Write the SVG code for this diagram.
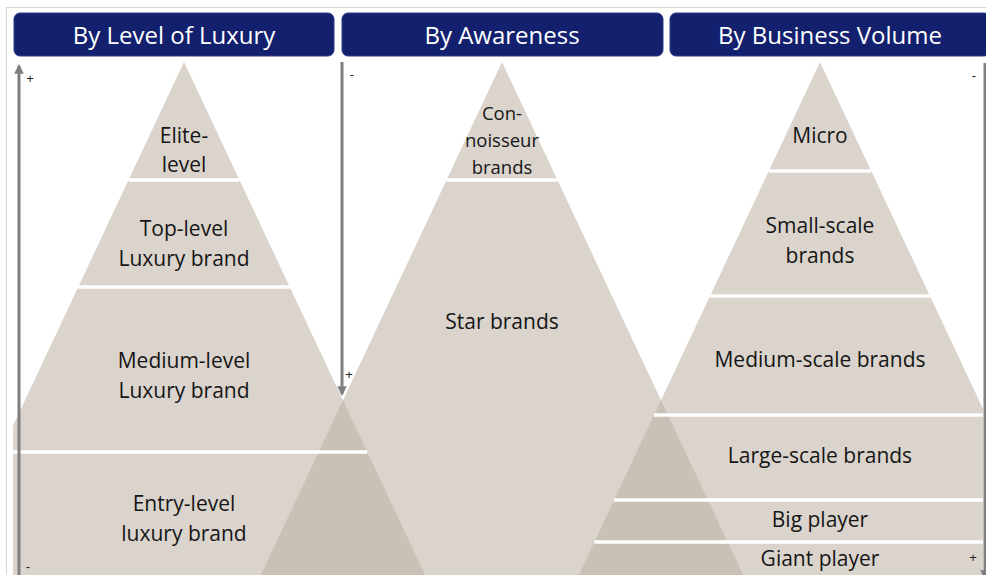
<svg xmlns="http://www.w3.org/2000/svg" width="986" height="575" viewBox="0 0 986 575">
<defs>
<style>
.hdr{fill:#13206E;stroke:#2E3A86;stroke-width:1}
.hdrt{font-family:"Open Sans","Liberation Sans",sans-serif;font-size:24px;fill:#ffffff;text-anchor:middle}
.pyr{fill:#DAD4CD}
.ovl{fill:#C9C0B6}
.sep{stroke:#ffffff;stroke-width:3.5}
.lbl{font-family:"Open Sans","Liberation Sans",sans-serif;font-size:21px;fill:#161616;text-anchor:middle}
.sm{font-family:"Liberation Sans",sans-serif;font-size:13px;fill:#222222;text-anchor:middle}
.axis{stroke:#7F7F7F;stroke-width:3;fill:none}
</style>
<marker id="ah" viewBox="0 0 10 10" refX="8" refY="5" markerWidth="3.2" markerHeight="3.2" orient="auto">
<path d="M0,0 L10,5 L0,10 z" fill="#7F7F7F"/>
</marker>
<clipPath id="clip"><rect x="13" y="57" width="970" height="518"/></clipPath>
</defs>
<rect x="0" y="0" width="986" height="575" fill="#ffffff"/>
<rect x="6.5" y="7.5" width="1000" height="600" fill="none" stroke="#D6D6D6" stroke-width="1"/>

<g id="headers">
<g id="header-luxury"><rect class="hdr" x="14" y="13" width="320" height="43" rx="6"/><text class="hdrt" x="174" y="44">By Level of Luxury</text></g>
<g id="header-awareness"><rect class="hdr" x="342" y="13" width="321" height="43" rx="6"/><text class="hdrt" x="502" y="44">By Awareness</text></g>
<g id="header-volume"><rect class="hdr" x="670" y="13" width="320" height="43" rx="6"/><text class="hdrt" x="830" y="44">By Business Volume</text></g>
</g>

<g id="pyramids" clip-path="url(#clip)">
<polygon id="pyramid-luxury" class="pyr" points="184,62 -68.9,600 436.9,600"/>
<polygon id="pyramid-awareness" class="pyr" points="502,62 249.1,600 754.9,600"/>
<polygon id="pyramid-volume" class="pyr" points="820,62 567.1,600 1072.9,600"/>
<polygon class="ovl" points="343,400.3 436.9,600 249.1,600"/>
<polygon class="ovl" points="661,400.3 754.9,600 567.1,600"/>
<line class="sep" x1="128.5" y1="180" x2="239.5" y2="180"/>
<line class="sep" x1="78" y1="287" x2="290" y2="287"/>
<line class="sep" x1="0.7" y1="452" x2="367.3" y2="452"/>
<line class="sep" x1="446.5" y1="180" x2="557.5" y2="180"/>
<line class="sep" x1="768.8" y1="171" x2="871.2" y2="171"/>
<line class="sep" x1="710" y1="296" x2="930" y2="296"/>
<line class="sep" x1="654" y1="415" x2="990" y2="415"/>
<line class="sep" x1="614" y1="500" x2="990" y2="500"/>
<line class="sep" x1="594.4" y1="542" x2="990" y2="542"/>
</g>

<g id="connectors">
<line class="axis" x1="19" y1="580" x2="19" y2="66" marker-end="url(#ah)"/>
<line class="axis" x1="342" y1="62" x2="342" y2="394" marker-end="url(#ah)"/>
<line class="axis" x1="985" y1="63" x2="985" y2="578" marker-end="url(#ah)"/>
</g>

<g id="axis-labels">
<text class="sm" x="30" y="83">+</text>
<text class="sm" x="28" y="571">-</text>
<text class="sm" x="352" y="79">-</text>
<text class="sm" x="349" y="379">+</text>
<text class="sm" x="974" y="80">-</text>
<text class="sm" x="973" y="562">+</text>
</g>

<g id="elite-level"><text class="lbl" x="184" y="143">Elite-</text><text class="lbl" x="184" y="172">level</text></g>
<g id="top-level"><text class="lbl" x="184" y="236">Top-level</text><text class="lbl" x="184" y="266">Luxury brand</text></g>
<g id="medium-level"><text class="lbl" x="184" y="368">Medium-level</text><text class="lbl" x="184" y="398">Luxury brand</text></g>
<g id="entry-level"><text class="lbl" x="184" y="511">Entry-level</text><text class="lbl" x="184" y="541">luxury brand</text></g>

<g id="connoisseur"><text class="lbl" x="502" y="120" style="font-size:18.5px">Con-</text><text class="lbl" x="502" y="147" style="font-size:18.5px">noisseur</text><text class="lbl" x="502" y="174" style="font-size:18.5px">brands</text></g>
<g id="star-brands"><text class="lbl" x="502" y="329">Star brands</text></g>

<g id="micro"><text class="lbl" x="820" y="143">Micro</text></g>
<g id="small-scale"><text class="lbl" x="820" y="233">Small-scale</text><text class="lbl" x="820" y="263">brands</text></g>
<g id="medium-scale"><text class="lbl" x="820" y="367">Medium-scale brands</text></g>
<g id="large-scale"><text class="lbl" x="820" y="463">Large-scale brands</text></g>
<g id="big-player"><text class="lbl" x="820" y="527">Big player</text></g>
<g id="giant-player"><text class="lbl" x="820" y="566">Giant player</text></g>
</svg>
